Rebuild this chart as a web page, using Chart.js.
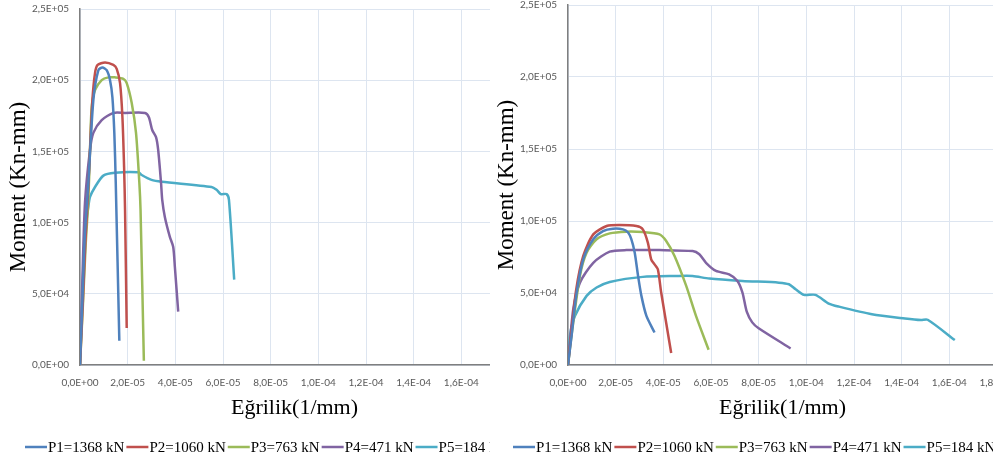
<!DOCTYPE html>
<html>
<head>
<meta charset="utf-8">
<script src="https://cdn.jsdelivr.net/npm/chart.js@4.4.1/dist/chart.umd.min.js"></script>
<style>
  html, body { margin: 0; padding: 0; background: #fff; }
  #wrap { position: relative; width: 993px; height: 464px; overflow: hidden; }
  .pane { position: absolute; top: 0; height: 464px; overflow: hidden; }
  #paneA { left: 0; width: 490px; }
  #paneB { left: 488px; width: 505px; }
  .pane canvas { display: block; }
</style>
</head>
<body>
<div id="wrap">
  <div class="pane" id="paneA"><canvas id="chartA" width="540" height="464"></canvas></div>
  <div class="pane" id="paneB"><canvas id="chartB" width="540" height="464"></canvas></div>
</div>
<script>
var seriesNames = ["P1=1368 kN", "P2=1060 kN", "P3=763 kN", "P4=471 kN", "P5=184 kN"];
var seriesColors = ["#4F81BD", "#C0504D", "#9BBB59", "#8064A2", "#4BACC6"];

// curvature (1/mm) vs moment (kN-mm), first specimen set
var a_p1 = [[0,0],[1.0e-6,4.5e4],[2.0e-6,9.0e4],[3.5e-6,1.28e5],[5.6e-6,1.86e5],[7.7e-6,2.07e5],[9.4e-6,2.09e5],[1.12e-5,2.07e5],[1.26e-5,2.0e5],[1.36e-5,1.88e5],[1.44e-5,1.63e5],[1.5e-5,1.28e5],[1.65e-5,1.7e4]];
var a_p2 = [[0,0],[1.2e-6,4.5e4],[2.2e-6,8.5e4],[3.2e-6,1.16e5],[4.2e-6,1.51e5],[5.2e-6,1.86e5],[6.3e-6,2.05e5],[7.4e-6,2.107e5],[1.05e-5,2.125e5],[1.4e-5,2.107e5],[1.54e-5,2.08e5],[1.68e-5,1.98e5],[1.78e-5,1.74e5],[1.85e-5,1.39e5],[1.89e-5,1.09e5],[1.96e-5,2.6e4]];
var a_p3 = [[0,0],[1.3e-6,4.5e4],[2.4e-6,8.5e4],[3.5e-6,1.16e5],[4.2e-6,1.51e5],[4.9e-6,1.81e5],[6.3e-6,1.93e5],[9.1e-6,2.0e5],[1.19e-5,2.02e5],[1.47e-5,2.02e5],[1.82e-5,2.01e5],[1.96e-5,1.98e5],[2.17e-5,1.84e5],[2.35e-5,1.63e5],[2.49e-5,1.28e5],[2.54e-5,1.09e5],[2.68e-5,3e3]];
var a_p4 = [[0,0],[1.0e-6,6.0e4],[2.1e-6,1.14e5],[4.2e-6,1.51e5],[5.6e-6,1.63e5],[9.1e-6,1.72e5],[1.4e-5,1.77e5],[1.89e-5,1.77e5],[2.73e-5,1.77e5],[2.89e-5,1.74e5],[3.03e-5,1.65e5],[3.19e-5,1.6e5],[3.28e-5,1.51e5],[3.4e-5,1.28e5],[3.45e-5,1.16e5],[3.56e-5,1.04e5],[3.77e-5,9.0e4],[3.91e-5,8.3e4],[3.98e-5,6.9e4],[4.12e-5,3.75e4]];
var a_p5 = [[0,0],[1.0e-6,5.0e4],[2.1e-6,9.2e4],[3.5e-6,1.11e5],[4.2e-6,1.18e5],[6.3e-6,1.25e5],[9.8e-6,1.33e5],[1.47e-5,1.35e5],[2.45e-5,1.353e5],[2.59e-5,1.334e5],[3.0e-5,1.3e5],[3.43e-5,1.287e5],[5.52e-5,1.25e5],[5.73e-5,1.23e5],[5.91e-5,1.2e5],[6.15e-5,1.2e5],[6.25e-5,1.16e5],[6.47e-5,6.0e4]];

// second specimen set
var b_p1 = [[0,0],[1.5e-6,2.03e4],[3.6e-6,5.0e4],[6.4e-6,7.34e4],[1.06e-5,8.73e4],[1.47e-5,9.3e4],[1.89e-5,9.47e4],[2.31e-5,9.42e4],[2.52e-5,9.2e4],[2.66e-5,8.73e4],[2.8e-5,7.8e4],[2.94e-5,6.18e4],[3.08e-5,4.8e4],[3.29e-5,3.41e4],[3.63e-5,2.26e4]];
var b_p2 = [[0,0],[1.4e-6,2.2e4],[3.4e-6,5.2e4],[6.4e-6,7.57e4],[1.06e-5,9.07e4],[1.62e-5,9.65e4],[2.17e-5,9.72e4],[2.87e-5,9.65e4],[3.14e-5,9.42e4],[3.35e-5,8.5e4],[3.49e-5,7.34e4],[3.63e-5,6.99e4],[3.77e-5,6.65e4],[3.91e-5,5.03e4],[4.33e-5,8.3e3]];
var b_p3 = [[0,0],[1.6e-6,2.2e4],[5.0e-6,6.18e4],[7.8e-6,7.8e4],[1.2e-5,8.73e4],[1.75e-5,9.14e4],[2.45e-5,9.26e4],[3.14e-5,9.23e4],[3.84e-5,9.07e4],[4.12e-5,8.61e4],[4.47e-5,7.57e4],[4.96e-5,5.49e4],[5.37e-5,3.41e4],[5.9e-5,1.06e4]];
var b_p4 = [[0,0],[2.2e-6,3.88e4],[5.0e-6,5.72e4],[1.06e-5,7.1e4],[1.75e-5,7.87e4],[2.45e-5,7.98e4],[3.84e-5,7.98e4],[5.23e-5,7.91e4],[5.51e-5,7.69e4],[5.79e-5,7.1e4],[6.21e-5,6.53e4],[6.76e-5,6.3e4],[7.11e-5,5.84e4],[7.32e-5,5.03e4],[7.5e-5,3.7e4],[7.73e-5,2.96e4],[8.0e-5,2.55e4],[9.34e-5,1.15e4]];
var b_p5 = [[0,0],[8e-7,2.03e4],[2.9e-6,3.41e4],[7.8e-6,4.8e4],[1.2e-5,5.38e4],[1.75e-5,5.77e4],[3.14e-5,6.12e4],[4.54e-5,6.18e4],[5.23e-5,6.18e4],[5.93e-5,6.0e4],[7.32e-5,5.84e4],[8.85e-5,5.72e4],[9.27e-5,5.61e4],[9.55e-5,5.26e4],[9.9e-5,4.87e4],[1.038e-4,4.87e4],[1.094e-4,4.27e4],[1.136e-4,4.06e4],[1.275e-4,3.53e4],[1.414e-4,3.23e4],[1.481e-4,3.12e4],[1.509e-4,3.14e4],[1.623e-4,1.73e4]];

var xTitle = "Eğrilik(1/mm)";
var yTitle = "Moment (Kn-mm)";
var xMax = 1.8e-4, xStep = 2e-5;
var yMax = 2.5e5, yStep = 5e4;

// Excel style scientific label: 2,0E-05
function sci(v) {
  var parts = Number(v).toExponential(1).split("e");
  var e = parseInt(parts[1], 10);
  var ee = Math.abs(e) < 10 ? "0" + Math.abs(e) : "" + Math.abs(e);
  return parts[0].replace(".", ",") + "E" + (e < 0 ? "-" : "+") + ee;
}

// legend drawn as a short line followed directly by the name
var lineKey = {
  id: "lineKey",
  afterDraw: function(chart) {
    var ctx = chart.ctx;
    var x = 25, y = 447;
    ctx.save();
    ctx.font = "15px 'Liberation Serif'";
    ctx.textBaseline = "middle";
    chart.data.datasets.forEach(function(ds) {
      ctx.strokeStyle = ds.borderColor;
      ctx.lineWidth = 2.5;
      ctx.beginPath();
      ctx.moveTo(x, y);
      ctx.lineTo(x + 22, y);
      ctx.stroke();
      ctx.fillStyle = "#000";
      ctx.fillText(ds.label, x + 23, y + 1);
      x += 23 + ctx.measureText(ds.label).width + 2;
    });
    ctx.restore();
  }
};

function makeChart(id, series, topPad) {
  var datasets = series.map(function(pts, i) {
    return {
      label: seriesNames[i],
      data: pts.map(function(p) { return {x: p[0], y: p[1]}; }),
      showLine: true,
      borderColor: seriesColors[i],
      backgroundColor: seriesColors[i],
      borderWidth: 2.5,
      pointRadius: 0,
      tension: 0.25
    };
  });
  return new Chart(id, {
    type: "scatter",
    data: { datasets: datasets },
    plugins: [lineKey],
    options: {
      responsive: false,
      animation: false,
      layout: { padding: { left: 0, top: topPad, right: 31, bottom: 0 } },
      plugins: { legend: { display: false }, tooltip: { enabled: false } },
      scales: {
        x: {
          type: "linear",
          min: 0, max: xMax,
          afterFit: function(s) { s.height = 99; s.paddingLeft = 0; s.paddingRight = 0; },
          grid: { color: "#dde5f0", drawTicks: false },
          border: { color: "#7f7f7f", width: 1.5 },
          ticks: {
            stepSize: xStep, padding: 12, color: "#595959",
            font: { family: "Lato", size: 10 },
            maxRotation: 0, autoSkip: false,
            callback: function(v) { return sci(v); }
          },
          title: {
            display: true, text: xTitle, color: "#000",
            font: { family: "'Liberation Serif'", size: 22 },
            padding: { top: 0, bottom: 43 }
          }
        },
        y: {
          min: 0, max: yMax,
          afterFit: function(s) { s.width = 80; s.paddingTop = 0; s.paddingBottom = 0; },
          grid: { color: "#dde5f0", drawTicks: false },
          border: { color: "#7f7f7f", width: 1.5 },
          ticks: {
            stepSize: yStep, padding: 11, color: "#595959",
            font: { family: "Lato", size: 10 },
            callback: function(v) { return sci(v); }
          },
          title: {
            display: true, text: yTitle, color: "#000",
            font: { family: "'Liberation Serif'", size: 23 },
            padding: { top: 5, bottom: 0 }
          }
        }
      }
    }
  });
}

makeChart("chartA", [a_p1, a_p2, a_p3, a_p4, a_p5], 9);
makeChart("chartB", [b_p1, b_p2, b_p3, b_p4, b_p5], 5);
</script>
</body>
</html>
